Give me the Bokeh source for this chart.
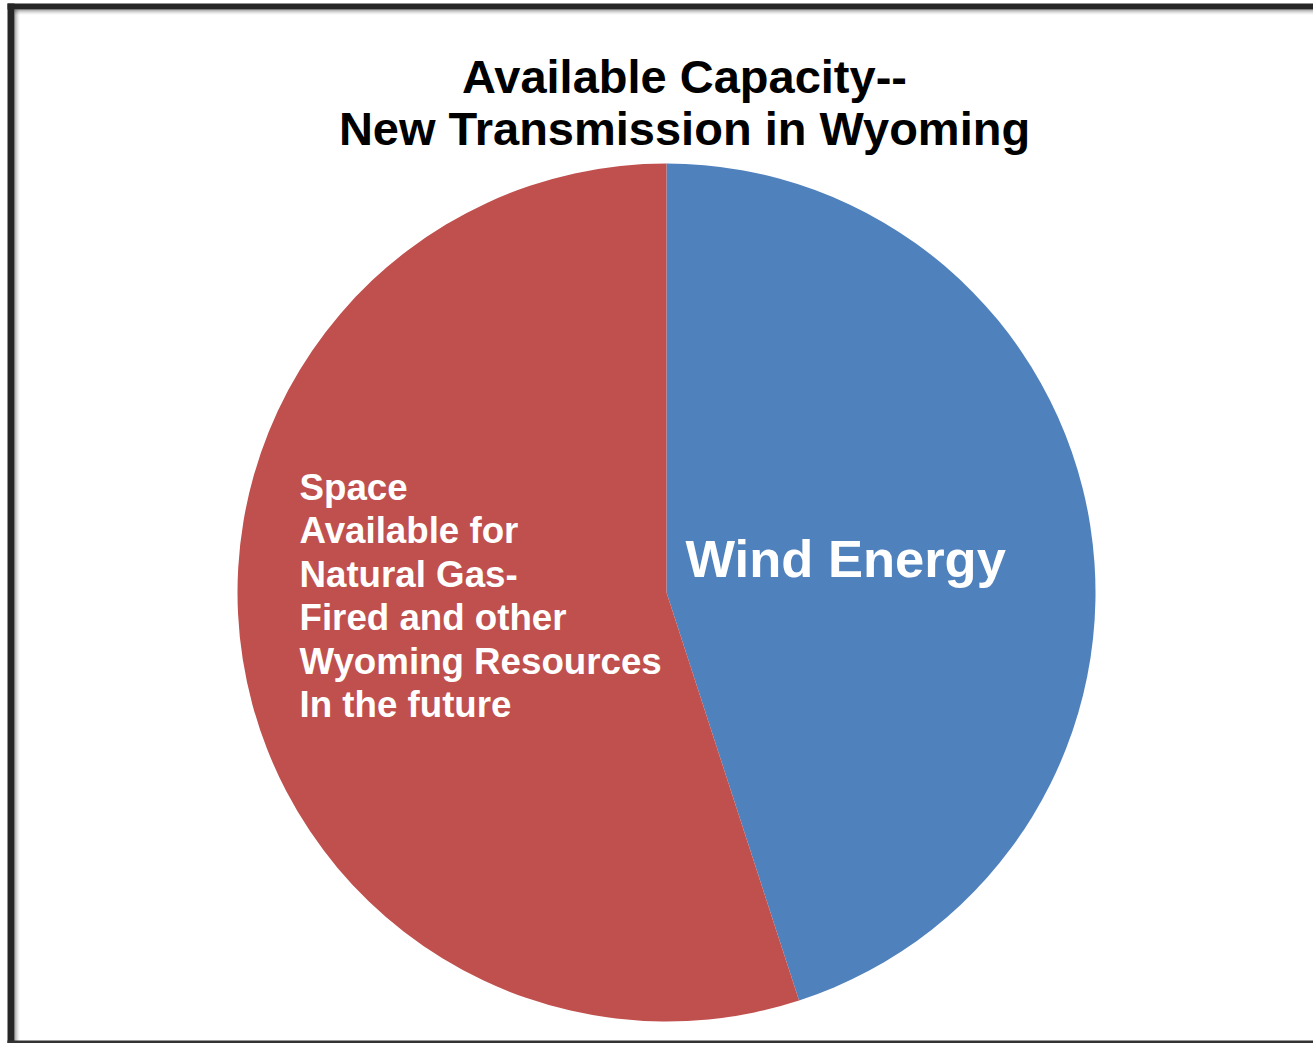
import numpy as np
from bokeh.plotting import figure
from bokeh.models import Range1d, BoxAnnotation
from bokeh.core.properties import value
from bokeh.embed import file_html
from bokeh.resources import INLINE

# ---- data ----
categories = ["Wind Energy", "Space Available for Natural Gas-Fired and other Wyoming Resources In the future"]
shares = [45, 55]
colors = ["#4F81BD", "#C0504D"]
title_lines = ["Available Capacity--", "New Transmission in Wyoming"]
wind_label = "Wind Energy"
other_label_lines = ["Space", "Available for", "Natural Gas-", "Fired and other", "Wyoming Resources", "In the future"]

W, H = 1313, 1043
p = figure(width=W, height=H, output_backend="svg", toolbar_location=None,
           x_range=Range1d(0, W), y_range=Range1d(0, H), min_border=0,
           border_fill_color="white", background_fill_color="white")
p.axis.visible = False
p.grid.visible = False
p.outline_line_color = None

# frame (dark border with inner shadow)
for i, a in enumerate([0.35, 0.25, 0.16, 0.09, 0.04]):
    p.add_layout(BoxAnnotation(left=14 + i, right=15 + i, top=H - 9, bottom=0,
                               fill_color="black", fill_alpha=a, line_color=None))
    p.add_layout(BoxAnnotation(left=14, right=W, top=H - 9 - i, bottom=H - 10 - i,
                               fill_color="black", fill_alpha=a, line_color=None))
p.add_layout(BoxAnnotation(left=7, right=14, top=H - 3, bottom=0,
                           fill_color="#262626", fill_alpha=1, line_color=None))
p.add_layout(BoxAnnotation(left=7, right=W, top=H - 3, bottom=H - 9,
                           fill_color="#262626", fill_alpha=1, line_color=None))
p.add_layout(BoxAnnotation(left=7, right=W, top=3, bottom=0,
                           fill_color="#333333", fill_alpha=1, line_color=None))

# pie
cx, cy, r = 666, H - 592, 429
frac = np.array(shares, dtype=float) / sum(shares)
cum = np.concatenate([[0], np.cumsum(frac)])
starts = np.pi / 2 - 2 * np.pi * cum[:-1]
ends = np.pi / 2 - 2 * np.pi * cum[1:]
p.wedge(x=cx, y=cy, radius=r, start_angle=ends, end_angle=starts,
        fill_color=colors, line_color=None)

# title
font = value("Liberation Sans")
p.text(x=[684, 684], y=[H - 76, H - 128], text=title_lines, text_font=font,
       text_font_style="bold", text_font_size="47px", text_color="black",
       text_align="center", text_baseline="alphabetic")

# slice labels
p.text(x=[685], y=[H - 558], text=[wind_label], text_font=font,
       text_font_style="bold", text_font_size="52.5px", text_color="white",
       text_align="left", text_baseline="alphabetic")
ys = [H - 487 - 43.4 * i for i in range(len(other_label_lines))]
p.text(x=[299] * len(other_label_lines), y=ys, text=other_label_lines, text_font=font,
       text_font_style="bold", text_font_size="36.7px", text_color="white",
       text_align="left", text_baseline="alphabetic")

open("out.html", "w").write(file_html(p, INLINE))
